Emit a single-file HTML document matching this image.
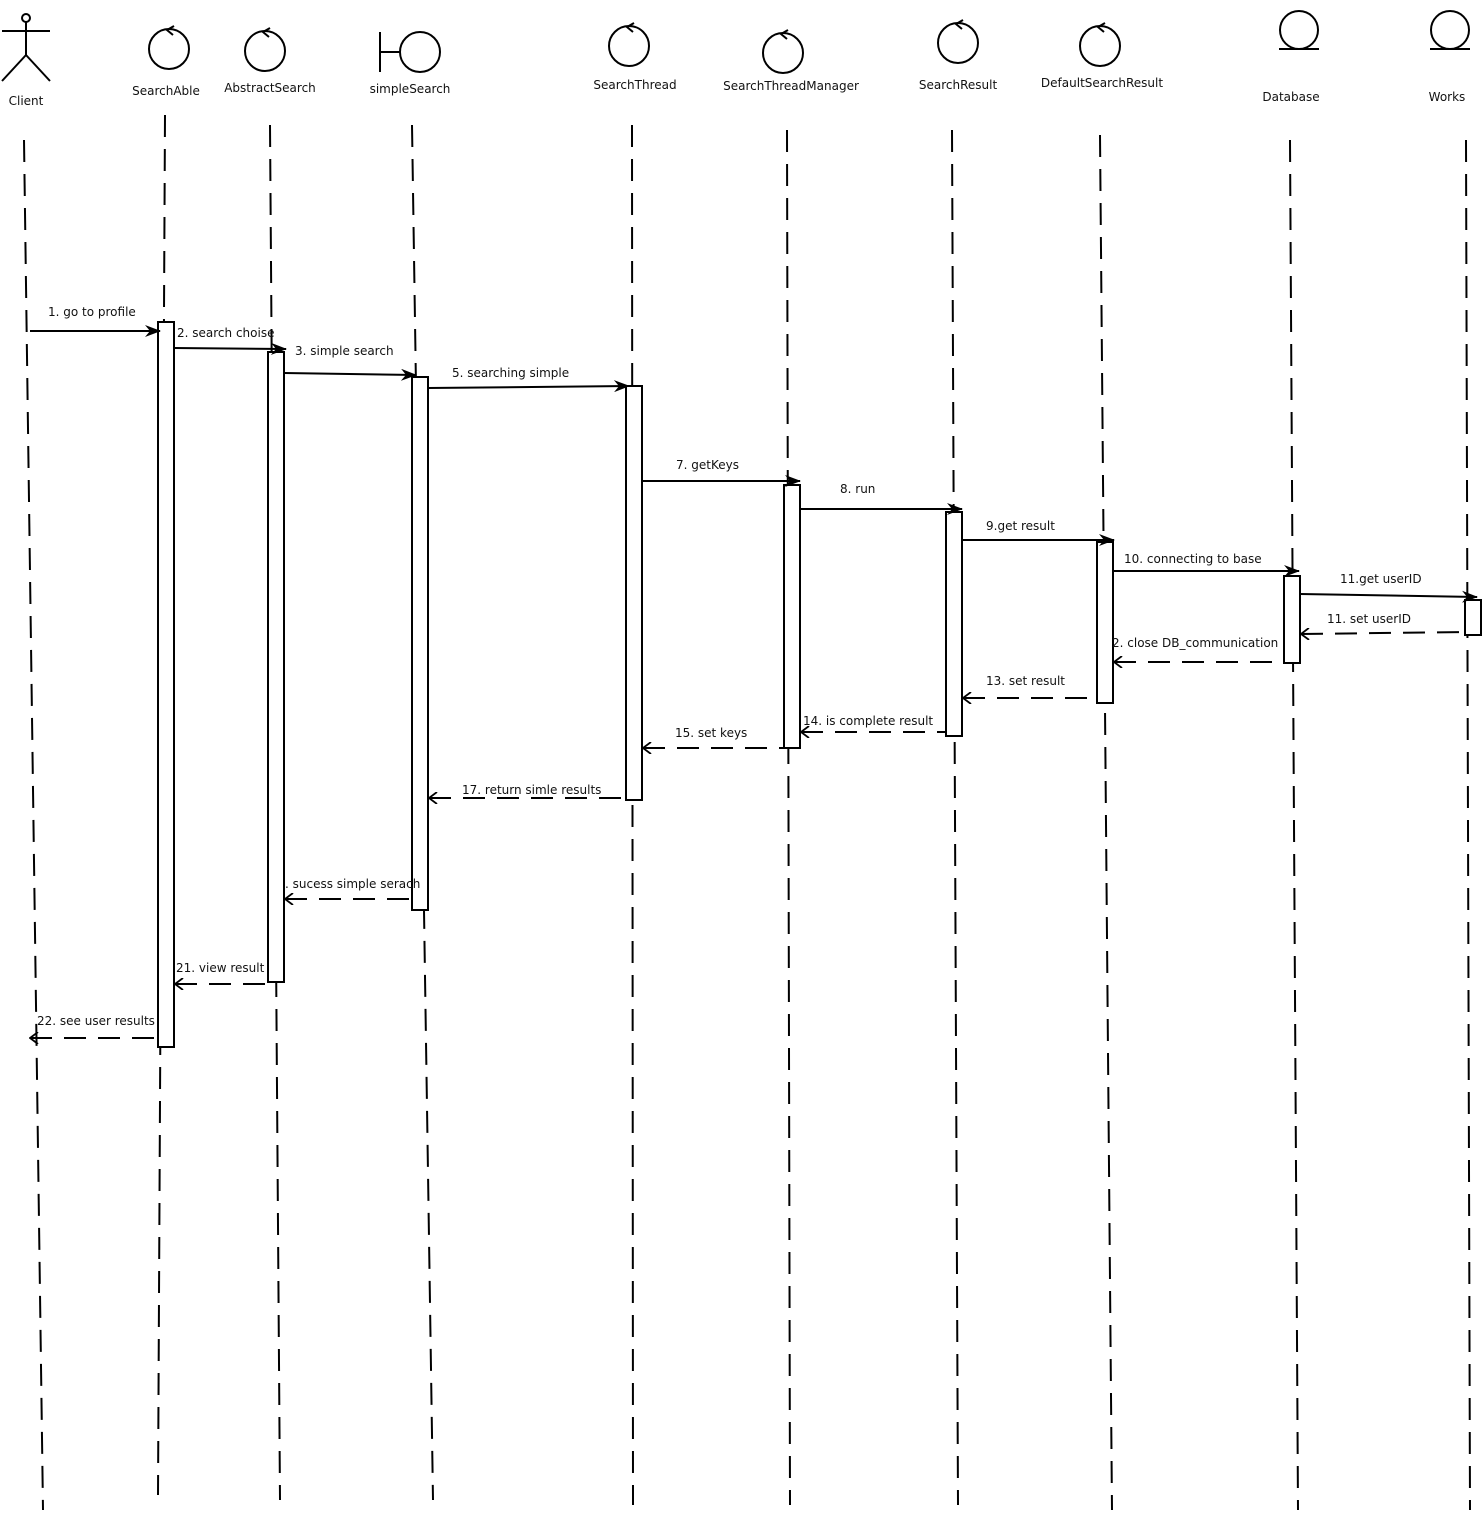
<!DOCTYPE html>
<html><head><meta charset="utf-8"><style>
html,body{margin:0;padding:0;background:#fff;}
svg{display:block;}
text{font-family:"DejaVu Sans","Liberation Sans",sans-serif;font-size:12px;fill:#111;}
</style></head><body>
<svg width="1484" height="1517" viewBox="0 0 1484 1517" xmlns="http://www.w3.org/2000/svg">
<defs>
<marker id="f" markerWidth="16" markerHeight="12" refX="15" refY="6" orient="auto" markerUnits="userSpaceOnUse"><path d="M0,0 L16,6 L0,12 L5,6 Z" fill="#000"/></marker>
<marker id="o" markerWidth="10" markerHeight="12" refX="1" refY="6" orient="auto" markerUnits="userSpaceOnUse"><path d="M9,0 L1,6 L9,12" fill="none" stroke="#000" stroke-width="1.8"/></marker>
</defs>
<g stroke="#000" stroke-width="2" stroke-dasharray="22,12" fill="none">
<line x1="24" y1="140" x2="43" y2="1510"/>
<line x1="165" y1="115" x2="158" y2="1495"/>
<line x1="270" y1="125" x2="280" y2="1500"/>
<line x1="412" y1="125" x2="433" y2="1500"/>
<line x1="632" y1="125" x2="633" y2="1505"/>
<line x1="787" y1="130" x2="790" y2="1505"/>
<line x1="952" y1="130" x2="958" y2="1505"/>
<line x1="1100" y1="135" x2="1112" y2="1510"/>
<line x1="1290" y1="140" x2="1298" y2="1510"/>
<line x1="1466" y1="140" x2="1470" y2="1510"/>
</g>
<g stroke="#000" stroke-width="2" fill="none">
<circle cx="26" cy="18" r="4"/>
<line x1="26" y1="22" x2="26" y2="55"/>
<line x1="2" y1="31" x2="50" y2="31"/>
<line x1="26" y1="55" x2="2" y2="81"/>
<line x1="26" y1="55" x2="50" y2="81"/>
<circle cx="169" cy="49" r="20"/><path d="M174,26 L167,30 L173,35"/>
<circle cx="265" cy="51" r="20"/><path d="M270,28 L263,32 L269,37"/>
<line x1="380" y1="32" x2="380" y2="72"/><line x1="380" y1="52" x2="400" y2="52"/><circle cx="420" cy="52" r="20"/>
<circle cx="629" cy="46" r="20"/><path d="M634,23 L627,27 L633,32"/>
<circle cx="783" cy="53" r="20"/><path d="M788,30 L781,34 L787,39"/>
<circle cx="958" cy="43" r="20"/><path d="M963,20 L956,24 L962,29"/>
<circle cx="1100" cy="46" r="20"/><path d="M1105,23 L1098,27 L1104,32"/>
<circle cx="1299" cy="30" r="19"/><line x1="1279" y1="49" x2="1319" y2="49"/>
<circle cx="1450" cy="30" r="19"/><line x1="1430" y1="49" x2="1470" y2="49"/>
</g>
<g text-anchor="middle">
<text x="26" y="105">Client</text>
<text x="166" y="95">SearchAble</text>
<text x="270" y="92">AbstractSearch</text>
<text x="410" y="93">simpleSearch</text>
<text x="635" y="89">SearchThread</text>
<text x="791" y="90">SearchThreadManager</text>
<text x="958" y="89">SearchResult</text>
<text x="1102" y="87">DefaultSearchResult</text>
<text x="1291" y="101">Database</text>
<text x="1447" y="101">Works</text>
</g>
<g stroke="#000" stroke-width="2" fill="#fff">
<rect x="158" y="322" width="16" height="725"/>
<rect x="268" y="352" width="16" height="630"/>
<rect x="412" y="377" width="16" height="533"/>
<rect x="626" y="386" width="16" height="414"/>
<rect x="784" y="485" width="16" height="263"/>
<rect x="946" y="512" width="16" height="224"/>
<rect x="1097" y="542" width="16" height="161"/>
<rect x="1284" y="576" width="16" height="87"/>
<rect x="1465" y="600" width="16" height="35"/>
</g>
<g stroke="#000" stroke-width="2" fill="none" marker-end="url(#f)">
<line x1="30" y1="331" x2="160" y2="331"/>
<line x1="174" y1="348" x2="286" y2="349"/>
<line x1="284" y1="373" x2="416" y2="375"/>
<line x1="428" y1="388" x2="629" y2="386"/>
<line x1="642" y1="481" x2="800" y2="481"/>
<line x1="800" y1="509" x2="962" y2="509"/>
<line x1="962" y1="540" x2="1114" y2="540"/>
<line x1="1113" y1="571" x2="1299" y2="571"/>
<line x1="1300" y1="594" x2="1477" y2="597"/>
</g>
<g stroke="#000" stroke-width="2" fill="none" stroke-dasharray="22,12" marker-start="url(#o)">
<line x1="1301" y1="634" x2="1465" y2="632"/>
<line x1="1114" y1="662" x2="1284" y2="662"/>
<line x1="963" y1="698" x2="1097" y2="698"/>
<line x1="801" y1="732" x2="946" y2="732"/>
<line x1="643" y1="748" x2="784" y2="748"/>
<line x1="429" y1="798" x2="626" y2="798"/>
<line x1="285" y1="899" x2="412" y2="899"/>
<line x1="175" y1="984" x2="268" y2="984"/>
<line x1="30" y1="1038" x2="158" y2="1038"/>
</g>
<text x="48" y="316">1. go to profile</text>
<text x="177" y="337">2. search choise</text>
<text x="295" y="355">3. simple search</text>
<text x="452" y="377">5. searching simple</text>
<text x="676" y="469">7. getKeys</text>
<text x="840" y="493">8. run</text>
<text x="986" y="530">9.get result</text>
<text x="1124" y="563">10. connecting to base</text>
<text x="1340" y="583">11.get userID</text>
<text x="1327" y="623">11. set userID</text>
<text x="1112" y="647">2. close DB_communication</text>
<text x="986" y="685">13. set result</text>
<text x="803" y="725">14. is complete result</text>
<text x="675" y="737">15. set keys</text>
<text x="462" y="794">17. return simle results</text>
<text x="285" y="888">. sucess simple serach</text>
<text x="176" y="972">21. view result</text>
<text x="37" y="1025">22. see user results</text>
</svg>
</body></html>
